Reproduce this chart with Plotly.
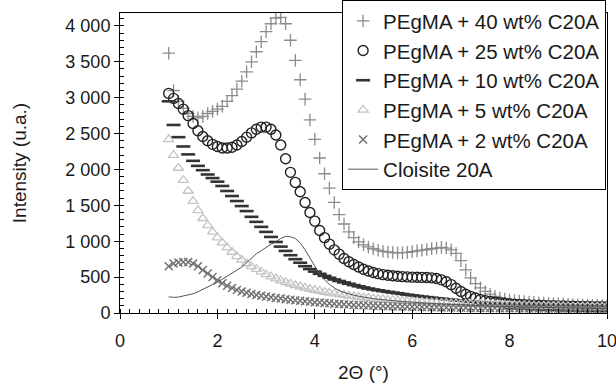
import plotly.graph_objects as go

# 2-theta grid (degrees)
x = [round(1.0 + 0.1 * i, 1) for i in range(91)]

names = ["PEgMA + 40 wt% C20A", "PEgMA + 25 wt% C20A", "PEgMA + 10 wt% C20A",
         "PEgMA + 5 wt% C20A", "PEgMA + 2 wt% C20A", "Cloisite 20A"]

s40 = [3620, 3100, 2950, 2850, 2780, 2740, 2720, 2740, 2780, 2810,
       2840, 2880, 2950, 3030, 3120, 3230, 3360, 3500, 3640, 3780,
       3920, 4030, 4110, 4120, 4030, 3800, 3520, 3250, 2980, 2690,
       2420, 2160, 1940, 1740, 1540, 1370, 1240, 1130, 1050, 990,
       950, 920, 895, 875, 860, 850, 842, 838, 840, 845,
       855, 865, 875, 885, 895, 905, 915, 905, 880, 830,
       730, 600, 490, 410, 350, 300, 262, 232, 210, 193,
       180, 172, 165, 158, 152, 147, 142, 138, 134, 130,
       127, 124, 121, 118, 115, 112, 110, 108, 106, 104, 102]

s25 = [3060, 2990, 2920, 2840, 2750, 2640, 2540, 2460, 2400, 2350,
       2320, 2300, 2300, 2310, 2340, 2390, 2450, 2510, 2560, 2590,
       2590, 2560, 2480, 2340, 2150, 1960, 1820, 1690, 1540, 1400,
       1280, 1150, 1050, 960, 880, 820, 760, 715, 675, 640,
       610, 585, 565, 548, 535, 525, 518, 512, 507, 503,
       500, 498, 496, 494, 490, 480, 462, 435, 395, 345,
       300, 262, 232, 208, 188, 172, 160, 150, 142, 135,
       129, 124, 120, 116, 113, 110, 107, 105, 103, 101,
       99, 97, 95, 94, 92, 91, 90, 89, 88, 87, 86]

s10 = [2950, 2620, 2450, 2320, 2210, 2120, 2050, 1990, 1930, 1880,
       1830, 1770, 1700, 1630, 1560, 1490, 1420, 1340, 1270, 1200,
       1130, 1060, 990, 925, 865, 805, 750, 700, 652, 612,
       577, 546, 517, 491, 467, 446, 426, 407, 389, 372,
       356, 341, 328, 316, 305, 295, 285, 275, 265, 255,
       246, 237, 229, 221, 213, 206, 199, 192, 185, 178,
       172, 166, 160, 155, 150, 146, 142, 138, 135, 132,
       129, 126, 123, 120, 118, 116, 114, 112, 110, 108,
       106, 104, 103, 102, 101, 100, 99, 98, 97, 96, 95]

s5 = [2420, 2200, 2020, 1850, 1700, 1560, 1430, 1320, 1220, 1130,
      1050, 980, 910, 850, 790, 740, 690, 650, 610, 572,
      537, 506, 478, 452, 428, 406, 386, 367, 350, 334,
      319, 305, 292, 280, 269, 259, 249, 240, 231, 223,
      215, 208, 201, 195, 189, 183, 178, 173, 168, 164,
      160, 156, 152, 149, 146, 143, 140, 137, 134, 132,
      129, 127, 125, 123, 121, 119, 117, 115, 113, 111,
      110, 108, 106, 105, 103, 102, 100, 99, 97, 96,
      95, 93, 92, 91, 90, 89, 88, 87, 86, 85, 84]

s2 = [650, 690, 705, 712, 710, 690, 650, 600, 550, 500,
      455, 415, 380, 348, 322, 300, 282, 266, 252, 240,
      229, 219, 210, 201, 193, 185, 177, 170, 163, 157,
      151, 145, 140, 135, 130, 125, 121, 117, 113, 110,
      107, 104, 101, 99, 97, 95, 93, 91, 89, 87,
      86, 84, 83, 82, 80, 79, 78, 77, 76, 75,
      74, 73, 72, 71, 70, 70, 69, 68, 67, 67,
      66, 65, 65, 64, 64, 63, 63, 62, 62, 61,
      61, 60, 60, 59, 59, 58, 58, 58, 57, 57, 56]

cloisite = [225, 218, 222, 234, 248, 268, 296, 326, 358, 396,
            428, 468, 508, 548, 592, 640, 702, 768, 826, 868,
            918, 958, 992, 1038, 1068, 1062, 1038, 978, 880, 762,
            642, 540, 462, 398, 352, 312, 286, 264, 248, 234,
            220, 210, 200, 192, 184, 178, 172, 166, 160, 156,
            150, 146, 142, 137, 133, 129, 126, 122, 119, 116,
            113, 110, 107, 104, 101, 98, 96, 93, 91, 89,
            87, 85, 83, 81, 79, 78, 76, 75, 73, 72,
            70, 69, 68, 67, 66, 65, 64, 63, 62, 61, 60]

FONT = "Liberation Sans, Arial, Helvetica, sans-serif"
TXT = "#1a1a1a"

C40, C25, C10, C5, C2, CCL = "#8c8c8c", "#222222", "#333333", "#c4c4c4", "#6e6e6e", "#555555"

fig = go.Figure()
fig.add_trace(go.Scatter(x=x, y=s40, name=names[0], mode="markers",
                         marker=dict(symbol="cross-thin-open", size=9, color=C40,
                                     line=dict(color=C40, width=1.3))))
fig.add_trace(go.Scatter(x=x, y=s25, name=names[1], mode="markers",
                         marker=dict(symbol="circle-open", size=10, color=C25,
                                     line=dict(color=C25, width=1.4))))
fig.add_trace(go.Scatter(x=x, y=s10, name=names[2], mode="markers",
                         marker=dict(symbol="line-ew-open", size=10, color=C10,
                                     line=dict(color=C10, width=2.6))))
fig.add_trace(go.Scatter(x=x, y=s5, name=names[3], mode="markers",
                         marker=dict(symbol="triangle-up-open", size=9, color=C5,
                                     line=dict(color=C5, width=1.3))))
fig.add_trace(go.Scatter(x=x, y=s2, name=names[4], mode="markers",
                         marker=dict(symbol="x-thin-open", size=8, color=C2,
                                     line=dict(color=C2, width=1.4))))
fig.add_trace(go.Scatter(x=x, y=cloisite, name=names[5], mode="lines",
                         line=dict(color=CCL, width=1)))

axis_common = dict(showgrid=False, zeroline=False, linecolor="black", linewidth=1,
                   tickcolor="black", tickwidth=1)

fig.update_layout(
    width=616, height=385,
    margin=dict(l=120, r=9, t=13, b=72, autoexpand=False),
    paper_bgcolor="white", plot_bgcolor="white",
    font=dict(family=FONT, color=TXT, size=18),
    separators=". ",
    showlegend=True,
    legend=dict(x=0.456, y=1.043, xanchor="left", yanchor="top",
                bgcolor="white", bordercolor="black", borderwidth=1,
                font=dict(size=20.5, color=TXT, family=FONT)),
    xaxis=dict(range=[0, 10], dtick=2, tick0=0, ticks="outside", ticklen=5,
               showline=True, mirror=True, ticklabeloverflow="allow",
               ticklabelstandoff=6,
               minor=dict(dtick=0.2, ticks="inside", ticklen=4, tickcolor="black"),
               title=dict(text="2Θ (°)", font=dict(size=19), standoff=16),
               **axis_common),
    yaxis=dict(range=[0, 4180], dtick=500, tick0=0, ticks="outside", ticklen=5,
               showline=True, mirror=True, tickformat=",d",
               minor=dict(dtick=100, ticks="inside", ticklen=4, tickcolor="black"),
               title=dict(text="Intensity (u.a.)", font=dict(size=19), standoff=33),
               **axis_common),
    xaxis2=dict(range=[0, 10], dtick=2, tick0=0, ticks="inside", ticklen=5,
                overlaying="x", anchor="y", showticklabels=False, showline=False,
                **axis_common),
    yaxis2=dict(range=[0, 4180], dtick=500, tick0=0, ticks="inside", ticklen=5,
                overlaying="y", anchor="x", showticklabels=False, showline=False,
                **axis_common),
)

fig.write_html("out.html")
